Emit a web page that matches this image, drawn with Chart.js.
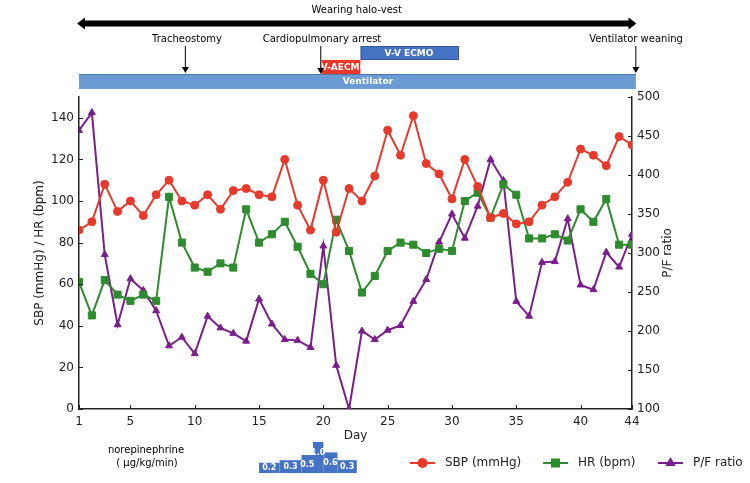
<!DOCTYPE html>
<html>
<head>
<meta charset="utf-8">
<script src="https://cdn.jsdelivr.net/npm/chart.js@4"></script>
<style>
  html, body { margin: 0; padding: 0; background: #fff; }
  #wrap { width: 750px; height: 483px; position: relative; }
</style>
</head>
<body>
<div id="wrap"><canvas id="chart" width="750" height="483"></canvas></div>
<script>
const DAYS = [1, 2, 3, 4, 5, 6, 7, 8, 9, 10, 11, 12, 13, 14, 15, 16, 17, 18, 19, 20, 21, 22,
  23, 24, 25, 26, 27, 28, 29, 30, 31, 32, 33, 34, 35, 36, 37, 38, 39, 40, 41, 42, 43, 44];
const SBP = [86, 90, 108, 95, 100, 93, 103, 110, 100, 98, 103, 96, 105, 106, 103, 102, 120, 98, 86, 110, 85, 106,
  100, 112, 134, 122, 141, 118, 113, 101, 120, 107, 92, 94, 89, 90, 98, 102, 109, 125, 122, 117, 131, 127];
const HR = [61, 45, 62, 55, 52, 55, 52, 102, 80, 68, 66, 70, 68, 96, 80, 84, 90, 78, 65, 60, 91, 76,
  56, 64, 76, 80, 79, 75, 77, 76, 100, 104, 92, 108, 103, 82, 82, 84, 81, 96, 90, 101, 79, 79];
const PF = [457, 480, 298, 208, 267, 252, 226, 181, 192, 171, 219, 204, 197, 187, 241, 209, 189, 188, 179, 309, 156, 100,
  200, 189, 201, 207, 238, 266, 314, 350, 319, 360, 420, 393, 238, 219, 288, 289, 344, 259, 253, 301, 282, 324];
const X_TICKS = [1, 5, 10, 15, 20, 25, 30, 35, 40, 44];
const Y_TICKS = [0, 20, 40, 60, 80, 100, 120, 140];
const PF_TICKS = [100, 150, 200, 250, 300, 350, 400, 450, 500];

// norepinephrine doses (µg/kg/min) and the day spans they cover
const NE_DOSE = [0.2, 0.3, 0.5, 1.0, 0.6, 0.3];
const NE_START = [15, 16.6, 18.3, 19.2, 20, 21.1];
const NE_END = [16.6, 18.3, 19.2, 20, 21.1, 22.6];

const RED = "#e8392b";
const GREEN = "#2e8b2e";
const PURPLE = "#7a1e8c";
const FONT = "DejaVu Sans";

Chart.defaults.font.family = FONT;
Chart.defaults.color = "#222";

function arrowDown(ctx, x, y0, y1) {
  ctx.strokeStyle = "#000";
  ctx.lineWidth = 1;
  ctx.beginPath();
  ctx.moveTo(x, y0);
  ctx.lineTo(x, y1 - 4);
  ctx.stroke();
  ctx.fillStyle = "#000";
  ctx.beginPath();
  ctx.moveTo(x - 3.5, y1 - 6);
  ctx.lineTo(x + 3.5, y1 - 6);
  ctx.lineTo(x, y1);
  ctx.closePath();
  ctx.fill();
}

function labelBox(ctx, x0, x1, y0, y1, fill, text, tx) {
  ctx.fillStyle = fill;
  ctx.fillRect(x0, y0, x1 - x0, y1 - y0);
  ctx.fillStyle = "#fff";
  ctx.font = "bold 9px " + FONT;
  ctx.textAlign = "center";
  ctx.textBaseline = "middle";
  ctx.fillText(text, tx, (y0 + y1) / 2 + 0.5);
}

const overlay = {
  id: "overlay",
  afterDraw(chart) {
    const ctx = chart.ctx;
    const xs = chart.scales.x;
    const px = (d) => xs.getPixelForValue(d);
    const area = chart.chartArea;
    ctx.save();

    // inward tick marks
    ctx.strokeStyle = "#222";
    ctx.lineWidth = 1;
    for (const v of X_TICKS) {
      const x = Math.round(px(v)) + 0.5;
      ctx.beginPath();
      ctx.moveTo(x, area.bottom);
      ctx.lineTo(x, area.bottom - 4);
      ctx.stroke();
    }
    for (const v of Y_TICKS) {
      const y = Math.round(chart.scales.y.getPixelForValue(v)) + 0.5;
      ctx.beginPath();
      ctx.moveTo(area.left, y);
      ctx.lineTo(area.left + 4, y);
      ctx.stroke();
    }
    for (const v of PF_TICKS) {
      const y = Math.round(chart.scales.y1.getPixelForValue(v)) + 0.5;
      ctx.beginPath();
      ctx.moveTo(area.right, y);
      ctx.lineTo(area.right - 4, y);
      ctx.stroke();
    }

    // right axis title, reading bottom to top
    ctx.save();
    ctx.translate(668, (area.top + area.bottom) / 2);
    ctx.rotate(-Math.PI / 2);
    ctx.fillStyle = "#222";
    ctx.font = "12px " + FONT;
    ctx.textAlign = "center";
    ctx.textBaseline = "middle";
    ctx.fillText("P/F ratio", 0, 0);
    ctx.restore();

    // halo-vest double arrow
    const hx0 = px(1) - 2;
    const hx1 = px(44.35);
    const hy = 23.5;
    ctx.fillStyle = "#000";
    ctx.fillRect(hx0 + 6, hy - 3, hx1 - hx0 - 12, 6);
    ctx.beginPath();
    ctx.moveTo(hx0, hy);
    ctx.lineTo(hx0 + 8, hy - 6);
    ctx.lineTo(hx0 + 8, hy + 6);
    ctx.closePath();
    ctx.fill();
    ctx.beginPath();
    ctx.moveTo(hx1, hy);
    ctx.lineTo(hx1 - 8, hy - 6);
    ctx.lineTo(hx1 - 8, hy + 6);
    ctx.closePath();
    ctx.fill();
    ctx.font = "10px " + FONT;
    ctx.textAlign = "center";
    ctx.textBaseline = "middle";
    ctx.fillText("Wearing halo-vest", (hx0 + hx1) / 2, 10);

    // ventilator / ECMO bars
    labelBox(ctx, px(1), px(44.3), 74, 89, "#6a9bd2", "Ventilator", 368);
    ctx.strokeStyle = "#4d78ad";
    ctx.beginPath();
    ctx.moveTo(px(1), 74.5);
    ctx.lineTo(px(44.3), 74.5);
    ctx.stroke();
    labelBox(ctx, px(22.9), px(30.55), 46, 60, "#4472c4", "V-V ECMO", 409);
    ctx.strokeStyle = "#35589a";
    ctx.strokeRect(px(22.9) + 0.5, 46.5, px(30.55) - px(22.9) - 1, 13);
    ctx.save();
    ctx.beginPath();
    ctx.rect(px(19.85), 60, px(22.9) - px(19.85), 14);
    ctx.clip();
    labelBox(ctx, px(19.85), px(22.9), 60, 74, "#e8382b", "V-AECMO", 344);
    ctx.restore();

    // event arrows
    ctx.font = "10px " + FONT;
    ctx.fillStyle = "#000";
    ctx.textAlign = "center";
    ctx.textBaseline = "middle";
    ctx.fillText("Tracheostomy", 187, 39);
    arrowDown(ctx, px(9.27), 46, 73);
    ctx.fillText("Cardiopulmonary arrest", 322, 39);
    arrowDown(ctx, px(19.8), 46, 74);
    ctx.fillText("Ventilator weaning", 636, 39);
    arrowDown(ctx, px(44.3), 46, 73);

    // norepinephrine blocks
    ctx.fillStyle = "#000";
    ctx.font = "10px " + FONT;
    ctx.fillText("norepinephrine", 146, 450);
    ctx.fillText("( \u00b5g/kg/min)", 147, 463);
    const base = 473;
    const hOf = (d) => 5 + 26 * d;
    NE_DOSE.forEach((d, i) => {
      const x0 = px(NE_START[i]);
      const x1 = px(NE_END[i]);
      ctx.fillStyle = "#4472c4";
      ctx.fillRect(x0, base - hOf(d), x1 - x0, hOf(d));
    });
    NE_DOSE.forEach((d, i) => {
      const x0 = px(NE_START[i]);
      const x1 = px(NE_END[i]);
      const top = base - hOf(d);
      ctx.fillStyle = "#fff";
      ctx.font = "bold 8px " + FONT;
      const ty = d >= 1 ? top + 11 : (top + base) / 2 + 0.5;
      ctx.fillText(d.toFixed(1), (x0 + x1) / 2, ty);
    });

    // legend
    const items = [
      { label: "SBP (mmHg)", color: RED, style: "circle", r: 4, x: 410 },
      { label: "HR (bpm)", color: GREEN, style: "rect", r: 5, x: 543 },
      { label: "P/F ratio", color: PURPLE, style: "triangle", r: 4, x: 658 },
    ];
    const ly = 463;
    for (const it of items) {
      ctx.strokeStyle = it.color;
      ctx.lineWidth = 2;
      ctx.beginPath();
      ctx.moveTo(it.x, ly);
      ctx.lineTo(it.x + 25, ly);
      ctx.stroke();
      ctx.fillStyle = it.color;
      Chart.helpers.drawPoint(ctx, { pointStyle: it.style, radius: it.r, rotation: 0, borderWidth: 1 }, it.x + 12.5, ly);
      ctx.fillStyle = "#222";
      ctx.font = "12px " + FONT;
      ctx.textAlign = "left";
      ctx.fillText(it.label, it.x + 35, ly);
    }
    ctx.restore();
  },
};

function series(label, data, color, style, radius, axis) {
  return {
    label,
    data,
    yAxisID: axis,
    borderColor: color,
    backgroundColor: color,
    pointBackgroundColor: color,
    pointBorderColor: color,
    borderWidth: 2,
    pointStyle: style,
    pointRadius: radius,
    pointBorderWidth: 1,
    tension: 0,
  };
}

new Chart(document.getElementById("chart"), {
  type: "line",
  data: {
    labels: DAYS,
    datasets: [
      series("SBP (mmHg)", DAYS.map((d, i) => ({ x: d, y: SBP[i] })), RED, "circle", 4, "y"),
      series("HR (bpm)", DAYS.map((d, i) => ({ x: d, y: HR[i] })), GREEN, "rect", 5, "y"),
      series("P/F ratio", DAYS.map((d, i) => ({ x: d, y: PF[i] })), PURPLE, "triangle", 4, "y1"),
    ],
  },
  options: {
    responsive: false,
    animation: false,
    layout: { padding: { top: 97, left: 29, right: 71, bottom: 36 } },
    plugins: { legend: { display: false }, tooltip: { enabled: false } },
    scales: {
      x: {
        type: "linear",
        min: 1,
        max: 44,
        afterBuildTicks: (s) => { s.ticks = X_TICKS.map((v) => ({ value: v })); },
        afterFit: (s) => { s.height = 38; },
        grid: { drawOnChartArea: false, drawTicks: false },
        border: { display: true, color: "#222", width: 1.5 },
        ticks: { font: { size: 12 }, padding: 6, maxRotation: 0, autoSkip: false },
        title: { display: true, text: "Day", font: { size: 12 } },
      },
      y: {
        position: "left",
        min: 0,
        max: 150,
        afterBuildTicks: (s) => { s.ticks = Y_TICKS.map((v) => ({ value: v })); },
        afterFit: (s) => { s.width = 50; },
        grid: { drawOnChartArea: false, drawTicks: false },
        border: { display: true, color: "#222", width: 1.5 },
        ticks: { font: { size: 12 }, padding: 5 },
        title: { display: true, text: "SBP (mmHg) / HR (bpm)", font: { size: 12 } },
      },
      y1: {
        position: "right",
        min: 100,
        max: 500,
        afterBuildTicks: (s) => { s.ticks = PF_TICKS.map((v) => ({ value: v })); },
        afterFit: (s) => { s.width = 47; },
        grid: { drawOnChartArea: false, drawTicks: false },
        border: { display: true, color: "#222", width: 1.5 },
        ticks: { font: { size: 12 }, padding: 5 },
        title: { display: false },
      },
    },
  },
  plugins: [overlay],
});
</script>
</body>
</html>
